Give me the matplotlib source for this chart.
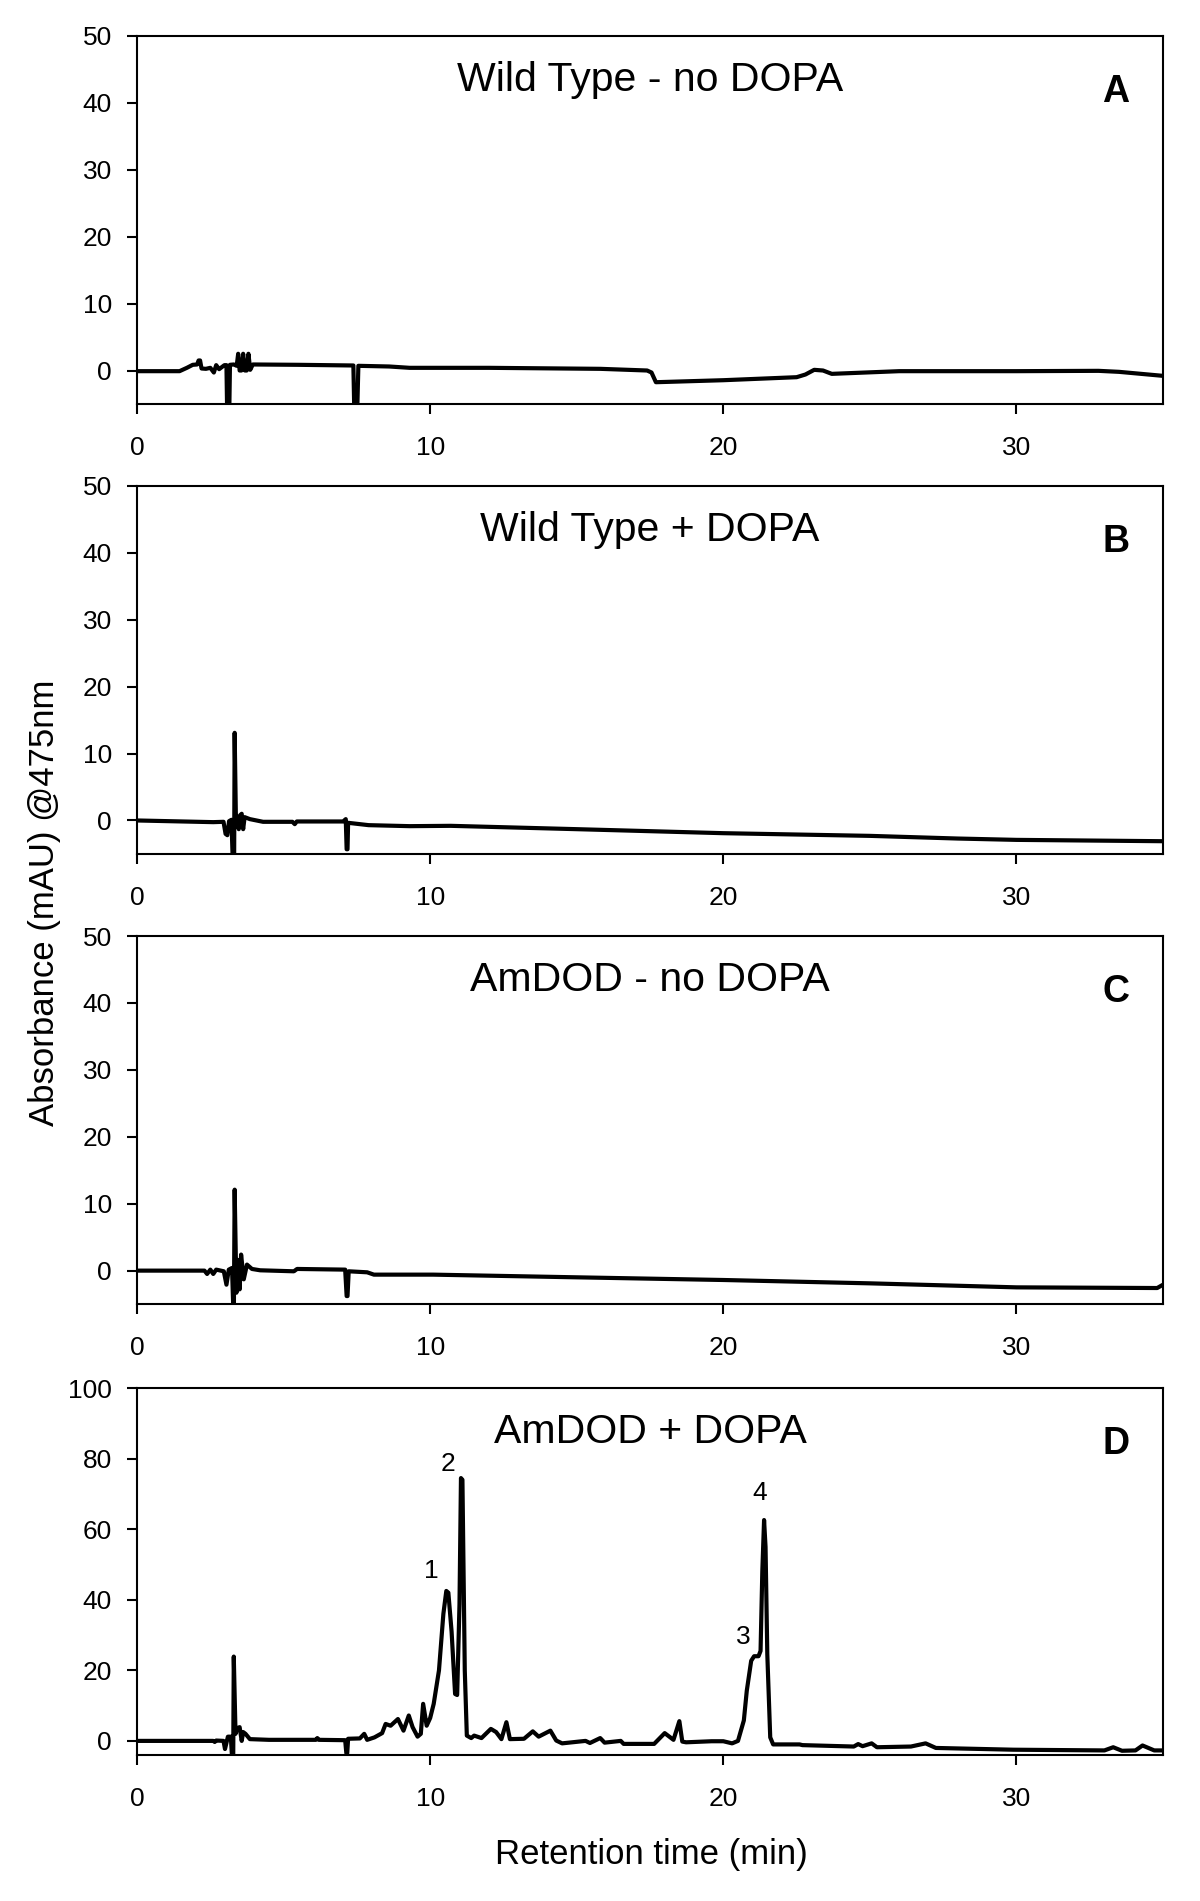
import matplotlib
matplotlib.use("Agg")
from matplotlib import pyplot as plt

plt.rcParams['font.family'] = ['Liberation Sans', 'DejaVu Sans']

# retention time (min) and absorbance (mAU)
t_a = [0, 1.45, 1.7, 1.9, 2.05, 2.1, 2.15, 2.2, 2.35, 2.5, 2.62, 2.7, 2.8,
       2.98, 3.05, 3.08, 3.14, 3.17, 3.3, 3.4, 3.45, 3.5, 3.56, 3.62, 3.68,
       3.74, 3.8, 3.86, 3.95, 5.5, 7.38, 7.42, 7.5, 7.55, 8.6, 9.3, 12.0,
       15.8, 17.4, 17.55, 17.7, 20.0, 22.5, 22.8, 23.1, 23.4, 23.7, 26.0,
       30.0, 32.8, 33.5, 35.0]
y_a = [-0.1, -0.1, 0.4, 0.85, 0.9, 1.5, 1.5, 0.3, 0.25, 0.4, -0.3, 0.8, 0.2,
       0.8, 0.8, -8, -8, 0.85, 0.9, 0.7, 2.5, 0.0, 0.0, 2.5, 0.0,
       0.0, 2.5, 0.1, 0.9, 0.85, 0.75, -8, -8, 0.7, 0.6, 0.4, 0.4,
       0.25, 0.0, -0.3, -1.75, -1.45, -1.0, -0.6, 0.1, 0.0, -0.5, -0.1,
       -0.1, -0.05, -0.2, -0.8]

t_b = [0, 2.6, 2.95, 3.02, 3.08, 3.14, 3.22, 3.28, 3.31, 3.33, 3.37, 3.43,
       3.47, 3.52, 3.57, 3.62, 3.67, 3.85, 4.3, 5.3, 5.38, 5.45, 7.03, 7.12,
       7.15, 7.18, 7.2, 7.9, 9.3, 10.7, 15.0, 20.0, 25.0, 28.0, 30.0, 35.0]
y_b = [0.0, -0.25, -0.2, -2.0, -2.2, -0.1, 0.1, -8, -8, 13.1, 1.0, -0.2,
       -1.3, 0.8, 1.0, -1.3, 0.5, 0.2, -0.2, -0.2, -0.55, -0.15, -0.15, 0.2,
       -4.3, -4.3, -0.35, -0.7, -0.85, -0.8, -1.3, -1.9, -2.3, -2.7, -2.9, -3.1]

t_c = [0, 2.3, 2.39, 2.5, 2.6, 2.7, 2.96, 3.05, 3.13, 3.24, 3.3, 3.33, 3.39,
       3.44, 3.5, 3.55, 3.64, 3.75, 3.92, 4.2, 5.35, 5.46, 7.1, 7.15, 7.18,
       7.22, 7.85, 8.08, 10.1, 15.0, 20.0, 25.0, 30.0, 34.8, 35.0]
y_c = [0.0, 0.0, -0.5, 0.15, -0.5, 0.15, -0.1, -2.1, 0.15, 0.4, -8, 12.1, -3.3,
       1.6, -2.8, 2.4, -1.3, 0.9, 0.25, 0.05, -0.1, 0.25, 0.15, -3.8, -3.8,
       -0.1, -0.25, -0.6, -0.6, -1.0, -1.4, -1.9, -2.5, -2.6, -2.1]

t_d = [0, 2.6, 2.65, 2.7, 2.95, 3.0, 3.1, 3.2, 3.25, 3.28, 3.3, 3.36, 3.42,
       3.5, 3.57, 3.62, 3.7, 3.85, 4.5, 6.1, 6.15, 6.2, 7.1, 7.14, 7.17, 7.2,
       7.6, 7.75, 7.85, 8.1, 8.36, 8.48, 8.65, 8.9, 9.09, 9.27, 9.4, 9.57,
       9.68, 9.76, 9.88, 10.0, 10.12, 10.3, 10.45, 10.55, 10.62, 10.73, 10.85,
       10.92, 11.0, 11.05, 11.1, 11.18, 11.25, 11.4, 11.5, 11.75, 12.07, 12.25,
       12.43, 12.6, 12.72, 13.2, 13.5, 13.7, 14.1, 14.3, 14.5, 15.3, 15.45,
       15.8, 15.95, 16.5, 16.6, 17.64, 18.0, 18.3, 18.5, 18.6, 18.73, 19.6,
       20.0, 20.3, 20.5, 20.7, 20.8, 20.95, 21.05, 21.2, 21.27, 21.33, 21.39,
       21.44, 21.5, 21.6, 21.7, 22.6, 22.7, 24.45, 24.6, 24.75, 25.06, 25.24,
       26.4, 26.9, 27.25, 29.9, 33.0, 33.3, 33.6, 34.06, 34.3, 34.7, 35.0]
y_d = [0.0, 0.0, -0.3, 0.1, 0.0, -2.3, 1.2, 1.2, -6, -6, 23.9, 2.0, 3.6,
       3.9, 0.0, 2.5, 2.0, 0.5, 0.3, 0.3, 0.8, 0.3, 0.2, -3.5, -3.5, 0.6,
       0.7, 2.0, 0.3, 1.0, 2.2, 4.8, 4.3, 6.2, 2.9, 7.2, 3.9, 1.2,
       2.0, 10.5, 4.3, 6.5, 10.5, 20.0, 36.0, 42.5, 42.0, 31.0, 13.3,
       13.0, 38.8, 74.5, 74.0, 20.0, 1.5, 0.8, 1.5, 0.8, 3.4, 2.5,
       0.5, 5.3, 0.5, 0.6, 2.7, 1.2, 2.9, 0.1, -0.7, 0.0, -0.6,
       0.8, -0.5, 0.0, -0.85, -0.85, 2.2, 0.3, 5.6, -0.2, -0.4, -0.1,
       -0.1, -0.7, 0.0, 5.8, 14.2, 22.7, 24.0, 24.0, 25.5, 48.0, 62.6,
       55.0, 24.6, 1.0, -1.0, -1.0, -1.2, -1.6, -0.9, -1.5, -0.7, -1.8,
       -1.6, -0.7, -2.0, -2.5, -2.7, -1.8, -2.8, -2.7, -1.3, -2.7, -2.7]

titles = ['Wild Type - no DOPA', 'Wild Type + DOPA', 'AmDOD - no DOPA', 'AmDOD + DOPA']
letters = ['A', 'B', 'C', 'D']
ylims = [(-5, 50), (-5, 50), (-5, 50), (-4, 100)]
yticks = [[0, 10, 20, 30, 40, 50]] * 3 + [[0, 20, 40, 60, 80, 100]]
xticks = [0, 10, 20, 30]

peak_labels = ['1', '2', '3', '4']
peak_t = [10.04, 10.6, 20.68, 21.25]
peak_y = [46.3, 76.5, 27.6, 68.2]

# axes boxes in figure fraction: left, bottom, width, height
boxes = [(0.1142, 0.7875, 0.855, 0.1936),
         (0.1142, 0.5508, 0.855, 0.1936),
         (0.1142, 0.3140, 0.855, 0.1936),
         (0.1142, 0.0768, 0.855, 0.1930)]

fig = plt.figure(figsize=(12, 19.01), dpi=100)

traces = [(t_a, y_a), (t_b, y_b), (t_c, y_c), (t_d, y_d)]
for i, (t, y) in enumerate(traces):
    ax = fig.add_axes(boxes[i])
    ax.plot(t, y, color='black', lw=3.0, solid_joinstyle='round')
    ax.set_xlim(0, 35)
    ax.set_ylim(*ylims[i])
    ax.set_xticks(xticks)
    ax.set_yticks(yticks[i])
    for s in ax.spines.values():
        s.set_linewidth(1.5)
    ax.tick_params(direction='out', length=7, width=1.5, labelsize=19)
    ax.tick_params(axis='x', pad=16)
    ax.tick_params(axis='y', pad=11)
    ax.text(0.5, 0.85, titles[i], transform=ax.transAxes, ha='center',
            va='baseline', fontsize=29.5)
    ax.text(0.954, 0.82, letters[i], transform=ax.transAxes, ha='center',
            va='baseline', fontsize=27, fontweight='bold')
    if i == 3:
        for lab, px, py in zip(peak_labels, peak_t, peak_y):
            ax.text(px, py, lab, ha='center', va='baseline', fontsize=19)

fig.text(0.037, 0.525, 'Absorbance (mAU) @475nm', rotation=90,
         ha='center', va='center', fontsize=25)
fig.text(0.5425, 0.0242, 'Retention time (min)', ha='center', va='center',
         fontsize=25)

fig.savefig('out.png', dpi=100)
